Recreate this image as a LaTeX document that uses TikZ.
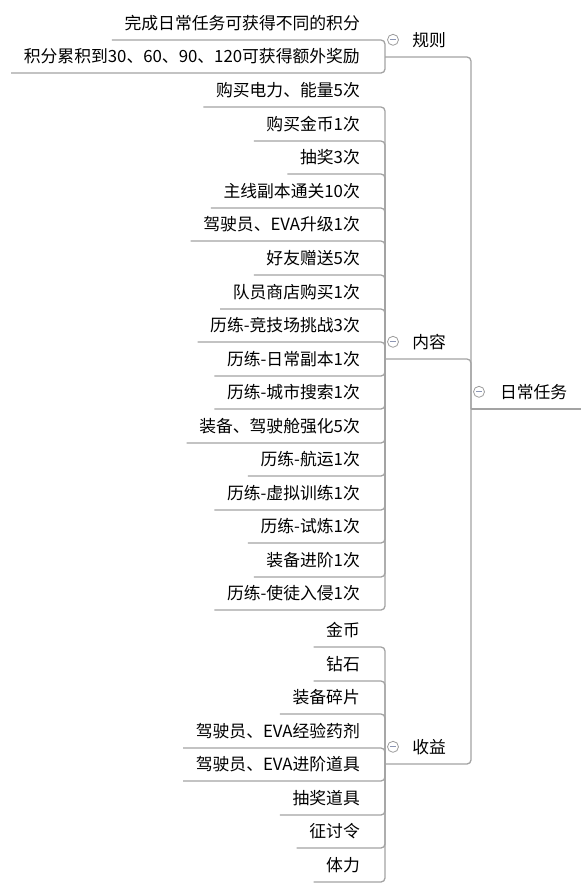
\documentclass[tikz,border=0pt]{standalone}
\usepackage{fontspec}
\setmainfont{Noto Sans CJK SC}
\usepackage{tikz}
\definecolor{linegray}{HTML}{A3A3A3}
\definecolor{foldgray}{HTML}{9C9C9C}
\definecolor{foldmark}{HTML}{8C96B4}
\tikzset{
  leaf/.style={anchor=south east, inner xsep=12.5pt, inner ysep=0pt, minimum height=34pt, font=\fontsize{16.8}{20}\selectfont},
  topic/.style={anchor=south west, inner sep=0pt, minimum height=34pt, font=\fontsize{16.8}{20}\selectfont},
  conn/.style={draw=linegray, line width=1.3pt, rounded corners=4pt},
  fold/.style={circle, draw=foldgray, line width=0.8pt, fill=white, minimum size=11pt, inner sep=0pt,
    path picture={\draw[foldmark, line width=1pt] ([xshift=-2.6pt]path picture bounding box.center) -- ([xshift=2.6pt]path picture bounding box.center);}},
}

\begin{document}
\begin{tikzpicture}[x=1pt, y=-1pt]
\useasboundingbox (0,0) rectangle (581,892);

\node[topic, text width=96pt, align=right] (root) at (471,409) {日常任务};
\coordinate (rootend) at (581,409);
\node[topic, minimum width=88pt] (rules) at (385,57) {规则};
\node[topic, minimum width=88pt] (content) at (385,359) {内容};
\node[topic, minimum width=88pt] (gain) at (385,764) {收益};

\draw[conn] (root.south west) -- (rootend);
\foreach \p in {rules, content, gain}
  \draw[conn] (root.south west) |- (\p.south west);

\foreach \i/\y/\t in {1/40/完成日常任务可获得不同的积分, 2/73/积分累积到30、60、90、120可获得额外奖励} {
  \node[leaf] (r\i) at (372.5,\y) {\t};
  \draw[conn] (rules.south west) |- (r\i.south west);
}

\foreach \i/\y/\t in {1/107/购买电力、能量5次, 2/141/购买金币1次, 3/174/抽奖3次,
    4/208/主线副本通关10次, 5/241/驾驶员、EVA升级1次, 6/275/好友赠送5次,
    7/309/队员商店购买1次, 8/342/历练-竞技场挑战3次, 9/376/历练-日常副本1次,
    10/409/历练-城市搜索1次, 11/443/装备、驾驶舱强化5次, 12/476/历练-航运1次,
    13/510/历练-虚拟训练1次, 14/543/历练-试炼1次, 15/577/装备进阶1次,
    16/610/历练-使徒入侵1次} {
  \node[leaf] (c\i) at (372.5,\y) {\t};
  \draw[conn] (content.south west) |- (c\i.south west);
}

\foreach \i/\y/\t in {1/647/金币, 2/681/钻石, 3/714/装备碎片, 4/748/驾驶员、EVA经验药剂,
    5/781/驾驶员、EVA进阶道具, 6/815/抽奖道具, 7/848/征讨令, 8/882/体力} {
  \node[leaf] (g\i) at (372.5,\y) {\t};
  \draw[conn] (gain.south west) |- (g\i.south west);
}

\node[fold] (rootfold) at ([xshift=8pt]root.west) {};
\node[fold] (rulesfold) at ([xshift=8pt]rules.west) {};
\node[fold] (contentfold) at ([xshift=8pt]content.west) {};
\node[fold] (gainfold) at ([xshift=8pt]gain.west) {};
\end{tikzpicture}
\end{document}
